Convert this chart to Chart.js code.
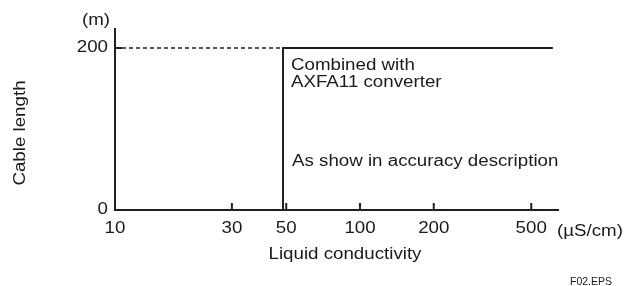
<!DOCTYPE html>
<html><head><meta charset="utf-8">
<script src="https://cdn.jsdelivr.net/npm/chart.js@4/dist/chart.umd.min.js"></script>
<style>html,body{margin:0;padding:0;background:#fff;overflow:hidden}canvas{display:block}</style>
</head><body>
<canvas id="c" width="633" height="286" style="width:633px;height:286px"></canvas>
<script>
// ---- data ----
const xTickValues = [10, 30, 50, 100, 200, 500];
const yTickValues = [0, 200];
const boundaryX = [48.5, 48.5, 613];
const boundaryY = [0, 200, 200];
const dashedX = [10, 48.5];
const dashedY = [200, 200];
const xMin = 10, xMax = 643, yMin = 0, yMax = 223.5;
const yUnit = '(m)';
const xUnit = '(\u00b5S/cm)';
const xTitle = 'Liquid conductivity';
const yTitle = 'Cable length';
const noteTop = ['Combined with', 'AXFA11 converter'];
const noteBottom = 'As show in accuracy description';
const figId = 'F02.EPS';

const INK = '#231f20';
const TXT = '#1c1a1b';
const FONT = '"Liberation Sans", Arial, Helvetica, sans-serif';

// wide (extended) lettering like the reference
const canvas = document.getElementById('c');
const ctx2d = canvas.getContext('2d');
const rawFill = ctx2d.fillText.bind(ctx2d);
const rawMeasure = ctx2d.measureText.bind(ctx2d);
let stretch = 1.17;
ctx2d.fillText = function (t, x, y, mw) {
  if (stretch === 1) { return rawFill(t, x, y); }
  this.save(); this.translate(x, y); this.scale(stretch, 1); rawFill(t, 0, 0); this.restore();
};
ctx2d.measureText = function (t) {
  const m = rawMeasure(t);
  return {
    width: m.width * stretch,
    actualBoundingBoxAscent: m.actualBoundingBoxAscent,
    actualBoundingBoxDescent: m.actualBoundingBoxDescent,
    actualBoundingBoxLeft: m.actualBoundingBoxLeft * stretch,
    actualBoundingBoxRight: m.actualBoundingBoxRight * stretch
  };
};

const toPts = (xs, ys) => xs.map((x, i) => ({x: x, y: ys[i]}));

const decor = {
  id: 'decor',
  afterDatasetsDraw(chart) {
    const c = chart.ctx, xs = chart.scales.x, ys = chart.scales.y;
    c.save();
    c.strokeStyle = INK; c.lineWidth = 2;
    xTickValues.forEach(v => {
      if (v === xMin) return;
      const px = xs.getPixelForValue(v);
      c.beginPath(); c.moveTo(px, ys.getPixelForValue(yMin)); c.lineTo(px, ys.getPixelForValue(yMin) - 7); c.stroke();
    });
    yTickValues.forEach(v => {
      if (v === yMin) return;
      const py = ys.getPixelForValue(v);
      c.beginPath(); c.moveTo(xs.getPixelForValue(xMin), py); c.lineTo(xs.getPixelForValue(xMin) + 7, py); c.stroke();
    });
    c.restore();
  },
  afterDraw(chart) {
    const c = chart.ctx;
    c.save();
    c.fillStyle = TXT;
    c.font = '16px ' + FONT;
    c.textBaseline = 'alphabetic';
    c.textAlign = 'center';
    c.fillText(yUnit, 96, 25);
    c.fillText(xTitle, 345, 259);
    c.textAlign = 'left';
    c.fillText(xUnit, 557, 236);
    c.fillText(noteTop[0], 291, 70);
    c.fillText(noteTop[1], 291, 87);
    c.fillText(noteBottom, 292, 166);
    c.save();
    c.translate(24.5, 133);
    c.rotate(-Math.PI / 2);
    c.textAlign = 'center';
    c.fillText(yTitle, 0, 0);
    c.restore();
    const s = stretch; stretch = 1;
    c.font = '10.5px ' + FONT;
    c.textAlign = 'left';
    c.fillText(figId, 570, 285);
    stretch = s;
    c.restore();
  }
};

new Chart(ctx2d, {
  type: 'line',
  data: {
    datasets: [
      {data: toPts(dashedX, dashedY), borderColor: INK, borderWidth: 1.4, borderDash: [4, 3], pointRadius: 0, tension: 0, fill: false},
      {data: toPts(boundaryX, boundaryY), borderColor: INK, borderWidth: 2, pointRadius: 0, tension: 0, fill: false}
    ]
  },
  options: {
    responsive: false,
    animation: false,
    events: [],
    layout: {padding: {left: 0, right: 75, top: 29, bottom: 0}},
    plugins: {legend: {display: false}, tooltip: {enabled: false}},
    scales: {
      x: {
        type: 'logarithmic', min: xMin, max: xMax,
        afterBuildTicks: s => { s.ticks = xTickValues.map(v => ({value: v})); },
        afterFit: s => { s.height = 76; },
        grid: {display: false, drawTicks: false},
        border: {display: true, color: INK, width: 2},
        ticks: {autoSkip: false, maxRotation: 0, minRotation: 0, padding: 9, color: TXT,
                font: {family: FONT, size: 16}, callback: v => String(v)}
      },
      y: {
        type: 'linear', min: yMin, max: yMax,
        afterBuildTicks: s => { s.ticks = yTickValues.map(v => ({value: v})); },
        afterFit: s => { s.width = 115; },
        grid: {display: false, drawTicks: false},
        border: {display: true, color: INK, width: 2},
        ticks: {padding: 7, color: TXT, font: {family: FONT, size: 16}, callback: v => String(v)}
      }
    }
  },
  plugins: [decor]
});
</script>
</body></html>
